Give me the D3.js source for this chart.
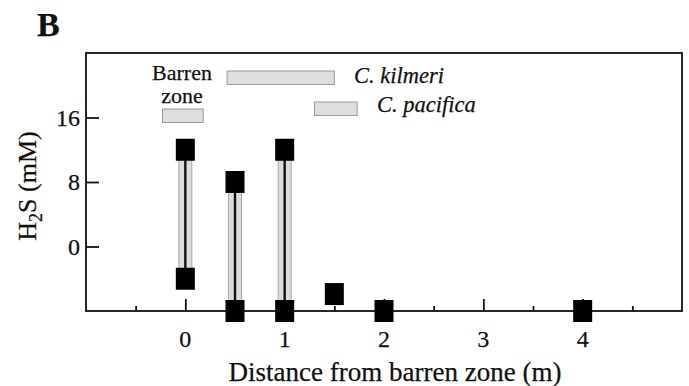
<!DOCTYPE html>
<html>
<head>
<meta charset="utf-8">
<script src="https://cdn.jsdelivr.net/npm/d3@7"></script>
<style>
  html, body { margin: 0; padding: 0; background: #fff; }
  svg { display: block; }
  text { font-family: "Liberation Serif", "Times New Roman", serif; fill: #111; stroke: #111; stroke-width: 0.25px; }
</style>
</head>
<body>
<svg id="chart" width="689" height="386"></svg>
<script>
// H2S measurements along the transect (distance in m, concentration in mM)
const distance = [0, 0, 0.5, 0.5, 1, 1, 1.5, 2, 4];
const h2s      = [12, -4, 8, -8, 12, -8, -5.9, -8, -8];

// Zone extents along the transect (m)
const zoneLabels = ["Barren zone", "C. kilmeri", "C. pacifica"];
const zoneStart  = [-0.23, 0.42, 1.3];
const zoneEnd    = [0.18, 1.5, 1.73];

// Axis ticks
const xMajorTicks = [0, 1, 2, 3, 4];
const xMinorTicks = [-0.5, 1.5, 2.5, 3.5, 4.5];
const yTicks = [0, 8, 16];

const svg = d3.select("#chart");
const plotL = 86, plotR = 682, plotT = 53, plotB = 311;

const x = d3.scaleLinear().domain([-1, 5]).range([plotL, plotR]);
const y = d3.scaleLinear().domain([-8, 24]).range([plotB, plotT]);

// Panel letter
svg.append("text").attr("x", 37).attr("y", 36)
  .style("font-size", "34px").style("font-weight", "bold").text("B");

// Frame
svg.append("rect").attr("x", plotL).attr("y", plotT)
  .attr("width", plotR - plotL).attr("height", plotB - plotT)
  .attr("fill", "none").attr("stroke", "#111").attr("stroke-width", 1.8);

// Y axis with inward ticks
const yAxis = d3.axisRight(y).tickValues(yTicks).tickSize(13).tickFormat("");
const gy = svg.append("g").attr("transform", `translate(${plotL},0)`).call(yAxis);
gy.select(".domain").remove();
gy.selectAll(".tick line").attr("stroke", "#111").attr("stroke-width", 1.8);
svg.append("g").selectAll("text").data(yTicks).join("text")
  .attr("x", 80).attr("y", d => y(d)).attr("dy", "0.35em")
  .attr("text-anchor", "end").style("font-size", "24px").text(d => d);

// X axis with inward major and minor ticks
const gxMajor = svg.append("g").attr("transform", `translate(0,${plotB})`)
  .call(d3.axisTop(x).tickValues(xMajorTicks).tickSize(12).tickFormat(""));
const gxMinor = svg.append("g").attr("transform", `translate(0,${plotB})`)
  .call(d3.axisTop(x).tickValues(xMinorTicks).tickSize(5).tickFormat(""));
[gxMajor, gxMinor].forEach(g => {
  g.select(".domain").remove();
  g.selectAll(".tick line").attr("stroke", "#111").attr("stroke-width", 1.8);
});
svg.append("g").selectAll("text").data(xMajorTicks).join("text")
  .attr("x", d => x(d)).attr("y", 347)
  .attr("text-anchor", "middle").style("font-size", "24px").text(d => d);

// Axis titles
svg.append("text").attr("x", 395).attr("y", 381)
  .attr("text-anchor", "middle").style("font-size", "27px")
  .text("Distance from barren zone (m)");

const yTitle = svg.append("text")
  .attr("transform", `translate(36,${(plotT + plotB) / 2 + 4}) rotate(-90)`)
  .attr("text-anchor", "middle").style("font-size", "26px");
yTitle.append("tspan").text("H");
yTitle.append("tspan").attr("dy", 6).style("font-size", "18px").text("2");
yTitle.append("tspan").attr("dy", -6).text("S (mM)");

// Zone bars (vertical placement is layout only)
const zoneRowY = [109, 71, 102];
const zoneBarH = 13.5;
svg.append("g").selectAll("rect").data(zoneLabels).join("rect")
  .attr("x", (d, i) => x(zoneStart[i]))
  .attr("y", (d, i) => zoneRowY[i])
  .attr("width", (d, i) => x(zoneEnd[i]) - x(zoneStart[i]))
  .attr("height", zoneBarH)
  .attr("fill", "#dedede").attr("stroke", "#9a9a9a").attr("stroke-width", 1);

// Zone labels
const barren = svg.append("text").attr("text-anchor", "middle")
  .style("font-size", "22px");
barren.append("tspan").attr("x", 182).attr("y", 80).text("Barren");
barren.append("tspan").attr("x", 182).attr("y", 103).text("zone");
svg.append("text").attr("x", 354).attr("y", 83)
  .style("font-size", "22.5px").style("font-style", "italic").text(zoneLabels[1]);
svg.append("text").attr("x", 377).attr("y", 112)
  .style("font-size", "22.5px").style("font-style", "italic").text(zoneLabels[2]);

// Ranges where two measurements share a distance
const groups = d3.groups(distance.map((d, i) => ({ d, v: h2s[i] })), p => p.d)
  .filter(([, pts]) => pts.length > 1)
  .map(([d, pts]) => ({ d, lo: d3.min(pts, p => p.v), hi: d3.max(pts, p => p.v) }));

const bandW = 13;
const ranges = svg.append("g");
ranges.selectAll("rect").data(groups).join("rect")
  .attr("x", g => x(g.d) - bandW / 2).attr("width", bandW)
  .attr("y", g => y(g.hi)).attr("height", g => y(g.lo) - y(g.hi))
  .attr("fill", "#dcdcdc").attr("stroke", "#a8a8a8").attr("stroke-width", 1);
ranges.selectAll("line").data(groups).join("line")
  .attr("x1", g => x(g.d)).attr("x2", g => x(g.d))
  .attr("y1", g => y(g.hi)).attr("y2", g => y(g.lo))
  .attr("stroke", "#111").attr("stroke-width", 2.4);

// Measurement markers
const mw = 19, mh = 22;
svg.append("g").selectAll("rect").data(distance).join("rect")
  .attr("x", d => x(d) - mw / 2)
  .attr("y", (d, i) => y(h2s[i]) - mh / 2)
  .attr("width", mw).attr("height", mh)
  .attr("fill", "#000");
</script>
</body>
</html>
